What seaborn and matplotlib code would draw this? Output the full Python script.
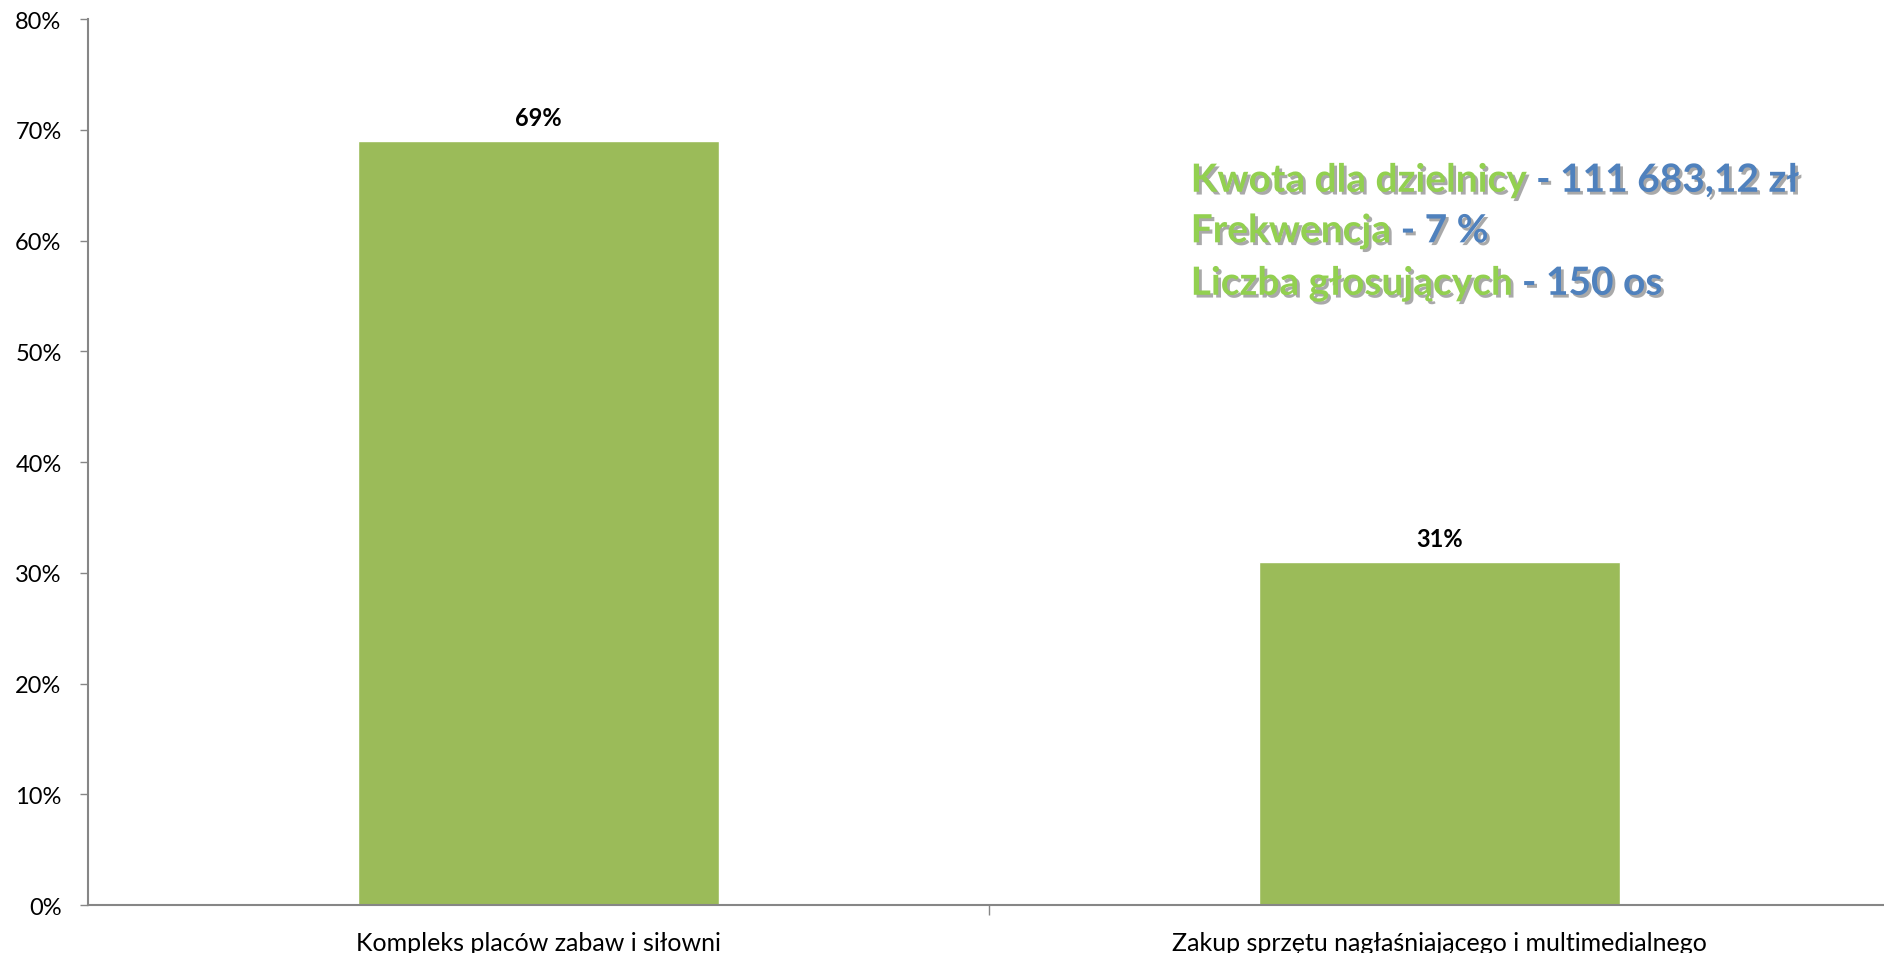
import matplotlib
matplotlib.use('Agg')
import matplotlib.pyplot as plt
import matplotlib.patheffects as pe
from matplotlib.ticker import PercentFormatter, FixedLocator
import seaborn as sns
import pandas as pd

# Dane
categories = ['Kompleks placów zabaw i siłowni',
              'Zakup sprzętu nagłaśniającego i multimedialnego']
values = [0.69, 0.31]
info_labels = ['Kwota dla dzielnicy', 'Frekwencja', 'Liczba głosujących']
info_values = ['- 111 683,12 zł', '- 7 %', '- 150 os']

bar_color = '#9BBB59'
green_txt = '#92D050'
blue_txt = '#4F81BD'
axis_gray = '#868686'

sns.set_theme(style='white')
plt.rcParams['font.family'] = ['Lato', 'DejaVu Sans']

df = pd.DataFrame({'kat': categories, 'val': values})

fig = plt.figure(figsize=(18.84, 9.54), dpi=100)
ax = fig.add_axes([0.0467, 0.0503, 0.9565, 0.9287])

sns.barplot(data=df, x='kat', y='val', color=bar_color, saturation=1,
            width=0.4, ax=ax)

ax.set_ylim(0, 0.8)
ax.set_xlim(-0.5, 1.5)
ax.set_yticks([i / 10 for i in range(9)])
ax.yaxis.set_major_formatter(PercentFormatter(1.0, decimals=0))
ax.set_xlabel('')
ax.set_ylabel('')

for s in ['top', 'right']:
    ax.spines[s].set_visible(False)
for s in ['left', 'bottom']:
    ax.spines[s].set_color(axis_gray)
    ax.spines[s].set_linewidth(1.5)

ax.tick_params(axis='y', which='major', left=True, length=6, width=1,
               color=axis_gray, labelsize=17, pad=13, labelcolor='black')
ax.tick_params(axis='x', which='major', bottom=False, labelsize=18,
               pad=13, labelcolor='black')
ax.xaxis.set_minor_locator(FixedLocator([0.5]))
ax.tick_params(axis='x', which='minor', bottom=True, length=7, width=1,
               color=axis_gray)

# Etykiety wartości
for i, v in enumerate(values):
    ax.text(i, v + 0.011, f'{v * 100:.0f}%', ha='center', va='bottom',
            fontsize=17, fontweight='bold', color='black')

# Tekst informacyjny
shadow = [pe.SimplePatchShadow(offset=(2, -2), shadow_rgbFace='#555555', alpha=0.5),
          pe.Normal()]
fig.canvas.draw()
renderer = fig.canvas.get_renderer()
y_lines = [0.810, 0.757, 0.702]
for lab, val, yy in zip(info_labels, info_values, y_lines):
    t1 = fig.text(0.632, yy, lab + ' ', fontsize=28, fontweight='bold',
                  color=green_txt, va='center', ha='left', path_effects=shadow)
    bb = t1.get_window_extent(renderer=renderer)
    x_end = bb.x1 / fig.bbox.width
    fig.text(x_end, yy, val, fontsize=28, fontweight='bold',
             color=blue_txt, va='center', ha='left', path_effects=shadow)

fig.savefig('out.png', dpi=100, facecolor='white')
plt.close(fig)
